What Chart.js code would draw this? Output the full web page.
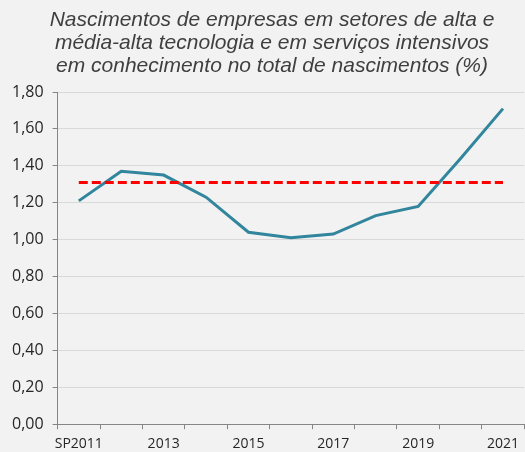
<!DOCTYPE html>
<html>
<head>
<meta charset="utf-8">
<script src="https://cdn.jsdelivr.net/npm/chart.js@4"></script>
<style>
  html, body { margin: 0; padding: 0; background: #f2f2f2; }
  #wrap { width: 525px; height: 452px; }
</style>
</head>
<body>
<div id="wrap"><canvas id="chart"></canvas></div>
<script>
// ------------------- Data -------------------
const years = ['SP2011', '2012', '2013', '2014', '2015', '2016', '2017', '2018', '2019', '2020', '2021'];
const shareValues = [1.21, 1.37, 1.35, 1.23, 1.04, 1.01, 1.03, 1.13, 1.18, 1.44, 1.71];
const averageLine = [1.31, 1.31, 1.31, 1.31, 1.31, 1.31, 1.31, 1.31, 1.31, 1.31, 1.31];
const titleLines = [
  'Nascimentos de empresas em setores de alta e',
  'média-alta tecnologia e em serviços intensivos',
  'em conhecimento no total de nascimentos (%)'
];

// ------------------- Plugin: title block -------------------
// Draws the three-line italic title a bit right of canvas centre
const titleBlock = {
  id: 'titleBlock',
  afterDraw(chart, args, opts) {
    const ctx = chart.ctx;
    ctx.save();
    ctx.font = opts.font;
    ctx.fillStyle = opts.color;
    ctx.textAlign = 'center';
    ctx.textBaseline = 'alphabetic';
    titleLines.forEach((line, i) => {
      ctx.fillText(line, opts.x, opts.y + i * opts.lineGap);
    });
    ctx.restore();
  }
};

const axisGrey = '#868686';

new Chart(document.getElementById('chart'), {
  type: 'line',
  data: {
    labels: years,
    datasets: [
      {
        data: averageLine,
        borderColor: '#ff0000',
        borderWidth: 3,
        borderDash: [9, 4],
        pointRadius: 0,
        tension: 0
      },
      {
        data: shareValues,
        borderColor: '#31859c',
        borderWidth: 3,
        pointRadius: 0,
        tension: 0
      }
    ]
  },
  options: {
    responsive: true,
    maintainAspectRatio: false,
    animation: false,
    layout: { padding: { top: 92, left: 3, right: 0, bottom: -6 } },
    plugins: {
      legend: { display: false },
      tooltip: { enabled: false },
      titleBlock: {
        font: 'italic 21px "Liberation Sans", Arial, sans-serif',
        color: '#3f3f3f',
        x: 272,
        y: 26,
        lineGap: 23
      }
    },
    scales: {
      x: {
        offset: true,
        grid: {
          offset: true,
          drawOnChartArea: false,
          tickLength: 5,
          color: axisGrey
        },
        border: { color: axisGrey },
        ticks: {
          autoSkip: false,
          maxRotation: 0,
          padding: 6,
          color: '#262626',
          font: { family: '"Open Sans", sans-serif', size: 14 },
          callback: (v, i) => (i % 2 === 0 ? years[i] : '')
        }
      },
      y: {
        min: 0,
        max: 1.8,
        grid: {
          color: '#d9d9d9',
          tickColor: axisGrey,
          tickLength: 5
        },
        border: { color: axisGrey },
        ticks: {
          stepSize: 0.2,
          padding: 9,
          color: '#262626',
          font: { family: '"Open Sans", sans-serif', size: 16 },
          callback: v => v.toFixed(2).replace('.', ',')
        }
      }
    }
  },
  plugins: [titleBlock]
});
</script>
</body>
</html>
